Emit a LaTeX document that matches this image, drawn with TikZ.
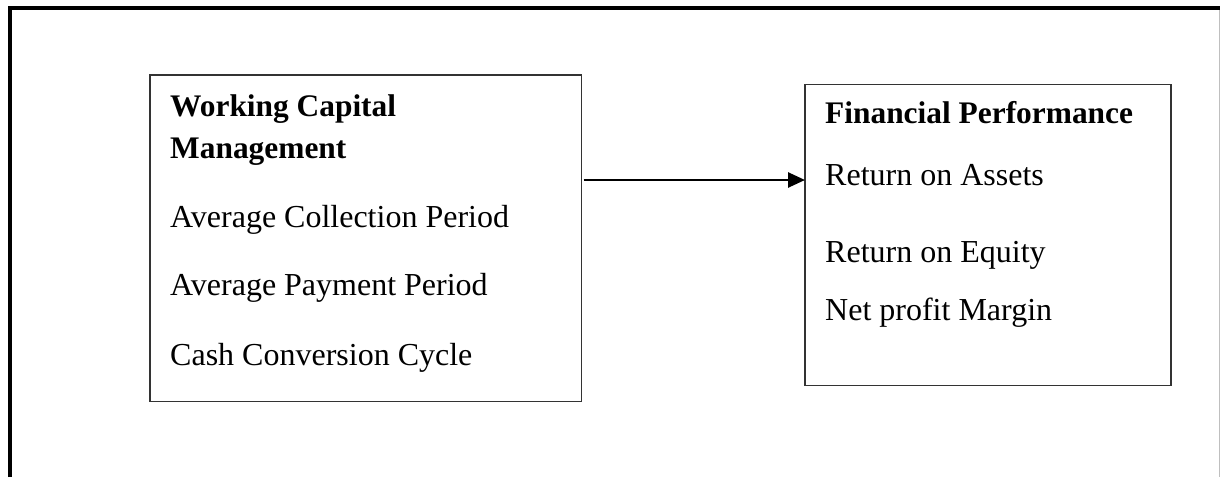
\documentclass[tikz,border=0pt]{standalone}
\usepackage{fontspec}
\setmainfont{Liberation Serif}
\usetikzlibrary{arrows.meta}

\begin{document}
\begin{tikzpicture}[x=1pt,y=-1pt,
	frame/.style={line width=4pt,line join=miter},
	box/.style={draw=black!80,line width=1.4pt,inner sep=0,outer sep=0},
	txt/.style={anchor=base west,inner sep=0,font=\fontsize{32}{36}\selectfont},
	head/.style={txt,font=\fontsize{31.4}{36}\selectfont\bfseries},
	arr/.style={line width=2.6pt,-{Triangle[length=17pt,width=15pt]}}]
	\useasboundingbox (0,0) rectangle (1220,477);
	% outer frame
	\draw[frame] (10,477) |- (1220,8);
	\draw[black!25,line width=1pt] (1219.5,10) -- (1219.5,477);
	% the two boxes
	\node[box,minimum width=431.7pt,minimum height=326.7pt] (wcm) at (365.8,238.3) {};
	\node[box,minimum width=366pt,minimum height=301.4pt] (fp) at (988,235) {};
	% left box texts
	\node[head] (wcm1) at (170,116.5) {Working Capital};
	\node[head] (wcm2) at (170,158) {Management};
	\node[txt] (acp) at (170,227) {Average Collection Period};
	\node[txt] (app) at (170,295) {Average Payment Period};
	\node[txt] (ccc) at (170,365) {Cash Conversion Cycle};
	% right box texts
	\node[head] (fp1) at (825,123) {Financial Performance};
	\node[txt] (roa) at (825,185) {Return on Assets};
	\node[txt] (roe) at (825,262) {Return on Equity};
	\node[txt] (npm) at (825,320) {Net profit Margin};
	\draw[arr] ([xshift=2pt]wcm.east |- 0,180) -- (fp.west |- 0,180);
\end{tikzpicture}
\end{document}
